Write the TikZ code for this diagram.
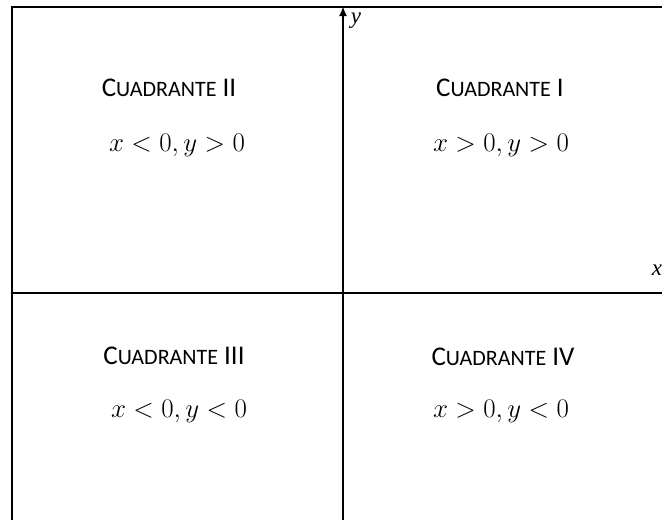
\documentclass[tikz,border=0pt]{standalone}
\usepackage{fontspec}
\setmainfont{Carlito}
\newfontfamily\axisfont{Liberation Serif}
\usetikzlibrary{arrows.meta}
\tikzstyle{titulo}=[inner sep=0pt,font=\fontsize{27}{30}\selectfont]
\tikzstyle{cond}=[inner sep=0pt,scale=1.08,font=\fontsize{24.88}{30}\selectfont]
\tikzstyle{eje}=[inner sep=0pt,font=\axisfont\itshape\fontsize{23}{26}\selectfont]
\tikzstyle{linea}=[line width=2pt]
\newcommand{\cuad}[1]{C{\fontsize{22}{24}\selectfont UADRANTE} #1}

\begin{document}
\begin{tikzpicture}[x=1pt,y=-1pt]
\useasboundingbox (0,0) rectangle (662,520);
\coordinate (NO) at (12,7);
\coordinate (NE) at (662,7);
\coordinate (SO) at (12,520);
\coordinate (O) at (12,293);
\coordinate (E) at (662,293);
\coordinate (S) at (343,520);
\coordinate (N) at (343,6);
\draw[linea](SO)--(NO)--(NE);
\draw[line width=1.3pt](O)--(E);
\draw[line width=2.4pt,-{Latex[length=10pt,width=8pt]}](S)--(N);
\node[eje] (y) at (356,21) {y};
\node[eje] (x) at (657,270) {x};
\node[titulo] (c2) at (169,88) {\cuad{II}};
\node[cond] (d2) at (177,145) {$x<0,y>0$};
\node[titulo] (c1) at (500,88) {\cuad{I}};
\node[cond] (d1) at (501,145) {$x>0,y>0$};
\node[titulo] (c3) at (174,356) {\cuad{III}};
\node[cond] (d3) at (179,411) {$x<0,y<0$};
\node[titulo] (c4) at (503,357) {\cuad{IV}};
\node[cond] (d4) at (501,411) {$x>0,y<0$};
\end{tikzpicture}
\end{document}
